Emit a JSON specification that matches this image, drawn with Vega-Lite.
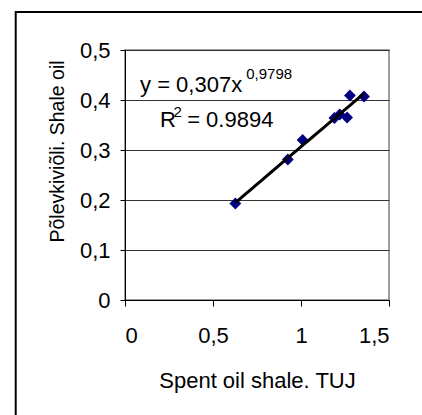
{
  "$schema": "https://vega.github.io/schema/vega-lite/v6.json",
  "width": 264,
  "height": 250,
  "autosize": {"type": "none"},
  "padding": {"left": 125, "top": 50, "right": 33, "bottom": 115},
  "background": "white",
  "datasets": {
    "points": [
      {"tuj": 0.627, "oil": 0.193},
      {"tuj": 0.925, "oil": 0.281},
      {"tuj": 1.009, "oil": 0.320},
      {"tuj": 1.19, "oil": 0.364},
      {"tuj": 1.22, "oil": 0.371},
      {"tuj": 1.262, "oil": 0.365},
      {"tuj": 1.278, "oil": 0.409},
      {"tuj": 1.358, "oil": 0.407}
    ]
  },
  "layer": [
    {
      "data": {"name": "points"},
      "mark": {"type": "point", "shape": "diamond", "filled": true, "color": "#000080", "size": 140, "opacity": 1},
      "encoding": {
        "x": {
          "field": "tuj", "type": "quantitative",
          "scale": {"domain": [0, 1.5], "nice": false},
          "axis": {
            "title": "Spent oil shale. TUJ",
            "values": [0, 0.5, 1, 1.5],
            "format": "~g",
            "grid": false,
            "tickSize": 6,
            "labelPadding": 19,
            "titleY": 87,
            "titleBaseline": "alphabetic"
          }
        },
        "y": {
          "field": "oil", "type": "quantitative",
          "scale": {"domain": [0, 0.5], "nice": false},
          "axis": {
            "title": "Põlevkiviõli. Shale oil",
            "values": [0, 0.1, 0.2, 0.3, 0.4, 0.5],
            "format": "~g",
            "grid": true,
            "tickSize": 5,
            "labelPadding": 10,
            "titleFontSize": 19.5,
            "titleX": -62,
            "titleY": 101,
            "titleAngle": -90,
            "titleAlign": "center",
            "titleBaseline": "alphabetic"
          }
        }
      }
    },
    {
      "data": {"name": "points"},
      "transform": [{"regression": "oil", "on": "tuj", "method": "pow"}],
      "mark": {"type": "line", "color": "black", "strokeWidth": 3},
      "encoding": {
        "x": {"field": "tuj", "type": "quantitative"},
        "y": {"field": "oil", "type": "quantitative"}
      }
    },
    {
      "data": {"values": [{"note": "frame"}]},
      "mark": {"type": "rect", "filled": false, "stroke": "black", "strokeWidth": 2},
      "encoding": {
        "x": {"datum": -0.621, "type": "quantitative"},
        "x2": {"datum": 1.75},
        "y": {"datum": 0.576, "type": "quantitative"},
        "y2": {"datum": -0.25}
      }
    },
    {
      "data": {"values": [{"note": "eq"}]},
      "mark": {"type": "text", "text": "y = 0,307x", "align": "left", "baseline": "alphabetic", "fontSize": 22, "font": "Liberation Sans", "fontWeight": "normal", "color": "black"},
      "encoding": {"x": {"datum": 0.0855, "type": "quantitative"}, "y": {"datum": 0.4166, "type": "quantitative"}}
    },
    {
      "data": {"values": [{"note": "exp"}]},
      "mark": {"type": "text", "text": "0,9798", "align": "left", "baseline": "alphabetic", "fontSize": 15, "font": "Liberation Sans", "fontWeight": "normal", "color": "black"},
      "encoding": {"x": {"datum": 0.689, "type": "quantitative"}, "y": {"datum": 0.442, "type": "quantitative"}}
    },
    {
      "data": {"values": [{"note": "R"}]},
      "mark": {"type": "text", "text": "R", "align": "left", "baseline": "alphabetic", "fontSize": 22, "font": "Liberation Sans", "fontWeight": "normal", "color": "black"},
      "encoding": {"x": {"datum": 0.1994, "type": "quantitative"}, "y": {"datum": 0.3466, "type": "quantitative"}}
    },
    {
      "data": {"values": [{"note": "sq"}]},
      "mark": {"type": "text", "text": "2", "align": "left", "baseline": "alphabetic", "fontSize": 15, "font": "Liberation Sans", "fontWeight": "normal", "color": "black"},
      "encoding": {"x": {"datum": 0.276, "type": "quantitative"}, "y": {"datum": 0.366, "type": "quantitative"}}
    },
    {
      "data": {"values": [{"note": "r2"}]},
      "mark": {"type": "text", "text": "= 0.9894", "align": "left", "baseline": "alphabetic", "fontSize": 22, "font": "Liberation Sans", "fontWeight": "normal", "color": "black"},
      "encoding": {"x": {"datum": 0.353, "type": "quantitative"}, "y": {"datum": 0.3466, "type": "quantitative"}}
    }
  ],
  "config": {
    "locale": {"number": {"decimal": ",", "thousands": " ", "grouping": [3], "currency": ["", " €"]}},
    "font": "Liberation Sans",
    "view": {"stroke": "#808080", "strokeWidth": 1.5},
    "axis": {
      "domainColor": "black",
      "domainWidth": 1,
      "tickColor": "black",
      "tickWidth": 1,
      "gridColor": "#333333",
      "gridWidth": 1,
      "labelFont": "Liberation Sans",
      "labelFontSize": 22,
      "labelColor": "black",
      "titleFont": "Liberation Sans",
      "titleFontSize": 22,
      "titleFontWeight": "normal",
      "titleColor": "black"
    }
  }
}
